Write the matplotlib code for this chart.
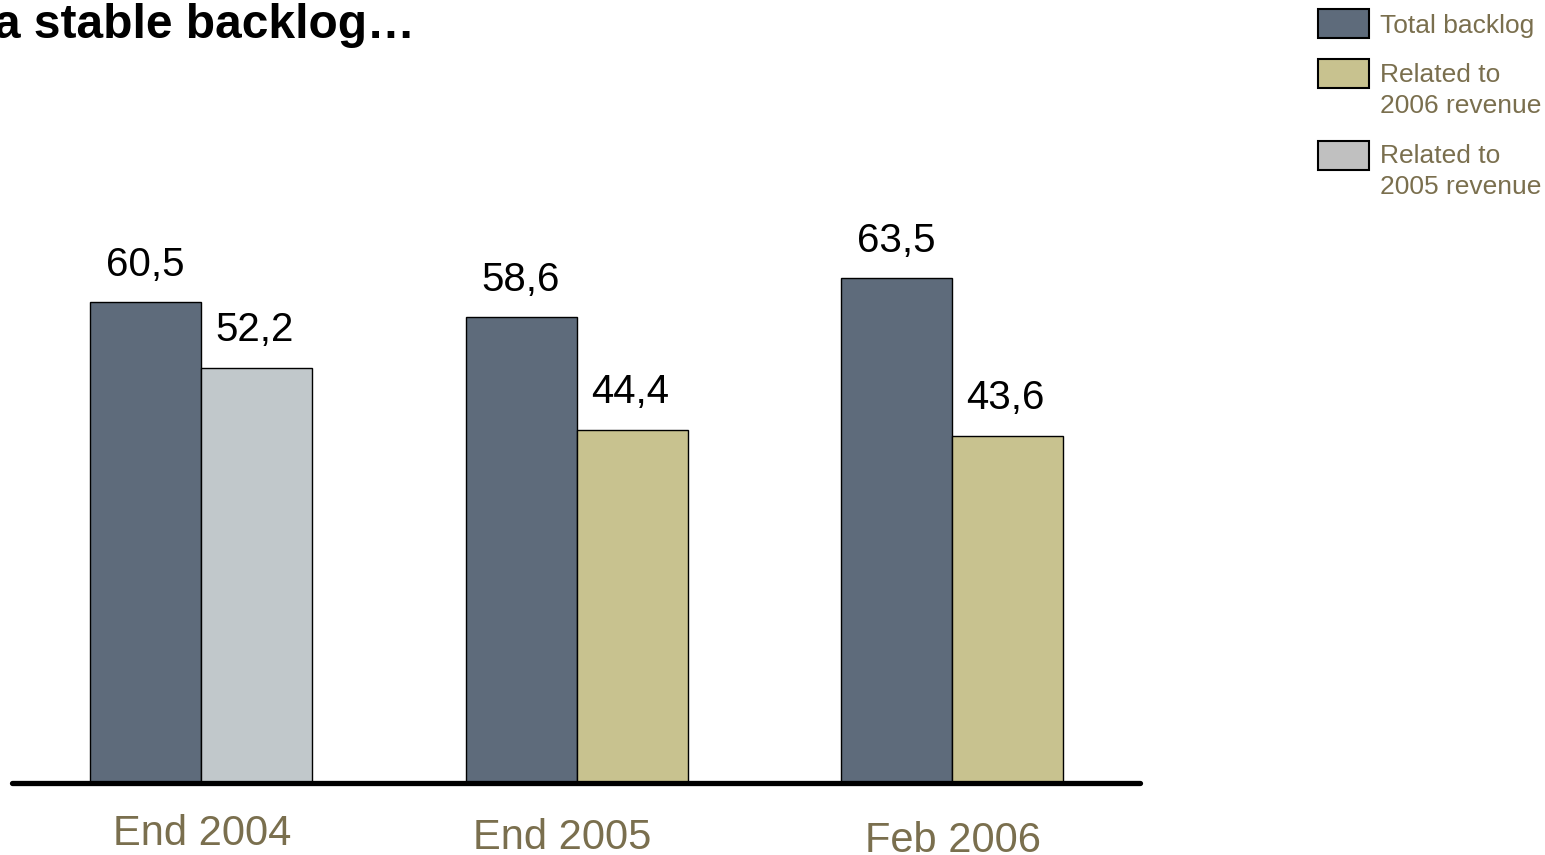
import matplotlib
matplotlib.use("Agg")
import matplotlib.pyplot as plt
from matplotlib.patches import Rectangle

plt.rcParams['font.family'] = ['Liberation Sans', 'DejaVu Sans']

# Data
categories = ["End 2004", "End 2005", "Feb 2006"]
total_backlog = [60.5, 58.6, 63.5]
related_revenue = [52.2, 44.4, 43.6]
related_kind = ["2005", "2006", "2006"]
value_labels_total = ["60,5", "58,6", "63,5"]
value_labels_related = ["52,2", "44,4", "43,6"]
legend_labels = ["Total backlog", "Related to\n2006 revenue", "Related to\n2005 revenue"]

# Styling
C_TOTAL = "#5E6B7B"
C_2006 = "#C8C28F"
C_2005 = "#C1C8CB"
C_2005_LEG = "#C0C0C0"
C_TEXT = "#7A6F4E"
kind_colors = {"2005": C_2005, "2006": C_2006}

W, H = 1545, 855
PX = 0.72  # points per pixel at 100 dpi
fig = plt.figure(figsize=(W / 100, H / 100), dpi=100)
ax = fig.add_axes([12 / W, (H - 783) / H, 1128 / W, 583 / H])

bw = 111 / 375.5
xs = list(range(len(categories)))
ax.bar([x - bw / 2 for x in xs], total_backlog, width=bw, color=C_TOTAL,
       edgecolor="black", linewidth=1.0, zorder=2)
ax.bar([x + bw / 2 for x in xs], related_revenue, width=bw,
       color=[kind_colors[k] for k in related_kind],
       edgecolor="black", linewidth=1.0, zorder=2)

for x, v, s in zip(xs, total_backlog, value_labels_total):
    ax.annotate(s, (x - bw / 2, v), xytext=(0, 26 * PX), textcoords="offset points",
                ha="center", va="baseline", fontsize=29, color="black")
for x, v, s in zip(xs, related_revenue, value_labels_related):
    ax.annotate(s, (x + bw / 2, v), xytext=(-2 * PX, 27 * PX), textcoords="offset points",
                ha="center", va="baseline", fontsize=29, color="black")

# category label placement (pixel offsets from group centre on the baseline)
cat_dx = [1, -14, 1]
cat_dy = [62, 66, 69]
for x, c, dx, dy in zip(xs, categories, cat_dx, cat_dy):
    ax.annotate(c, (x, 0), xytext=(dx * PX, -dy * PX), textcoords="offset points",
                ha="center", va="baseline", fontsize=30, color=C_TEXT,
                annotation_clip=False)

ax.axhline(0, color="black", lw=3.8, solid_capstyle="round", zorder=3, clip_on=False)
ax.set_xlim(-0.503, 2.5)
ax.set_ylim(0, 583 / 7.95)
ax.axis("off")

# Title (runs off the left edge)
fig.text(-6 / W, (H - 38) / H, "a stable backlog\u2026", fontsize=34.5, fontweight="bold",
         ha="left", va="baseline", color="black")

# Legend
leg_colors = [C_TOTAL, C_2006, C_2005_LEG]
leg_tops = [9, 59, 141]
leg_baselines = [33, 82, 163]
for col, top, base, lab in zip(leg_colors, leg_tops, leg_baselines, legend_labels):
    fig.patches.append(Rectangle((1318 / W, (H - top - 29) / H), 51 / W, 29 / H,
                                 transform=fig.transFigure, facecolor=col,
                                 edgecolor="black", linewidth=1.5))
    for i, line in enumerate(lab.split("\n")):
        fig.text(1380 / W, (H - base - 31 * i) / H, line, fontsize=19, color=C_TEXT,
                 ha="left", va="baseline")

fig.savefig("out.png", dpi=100)
